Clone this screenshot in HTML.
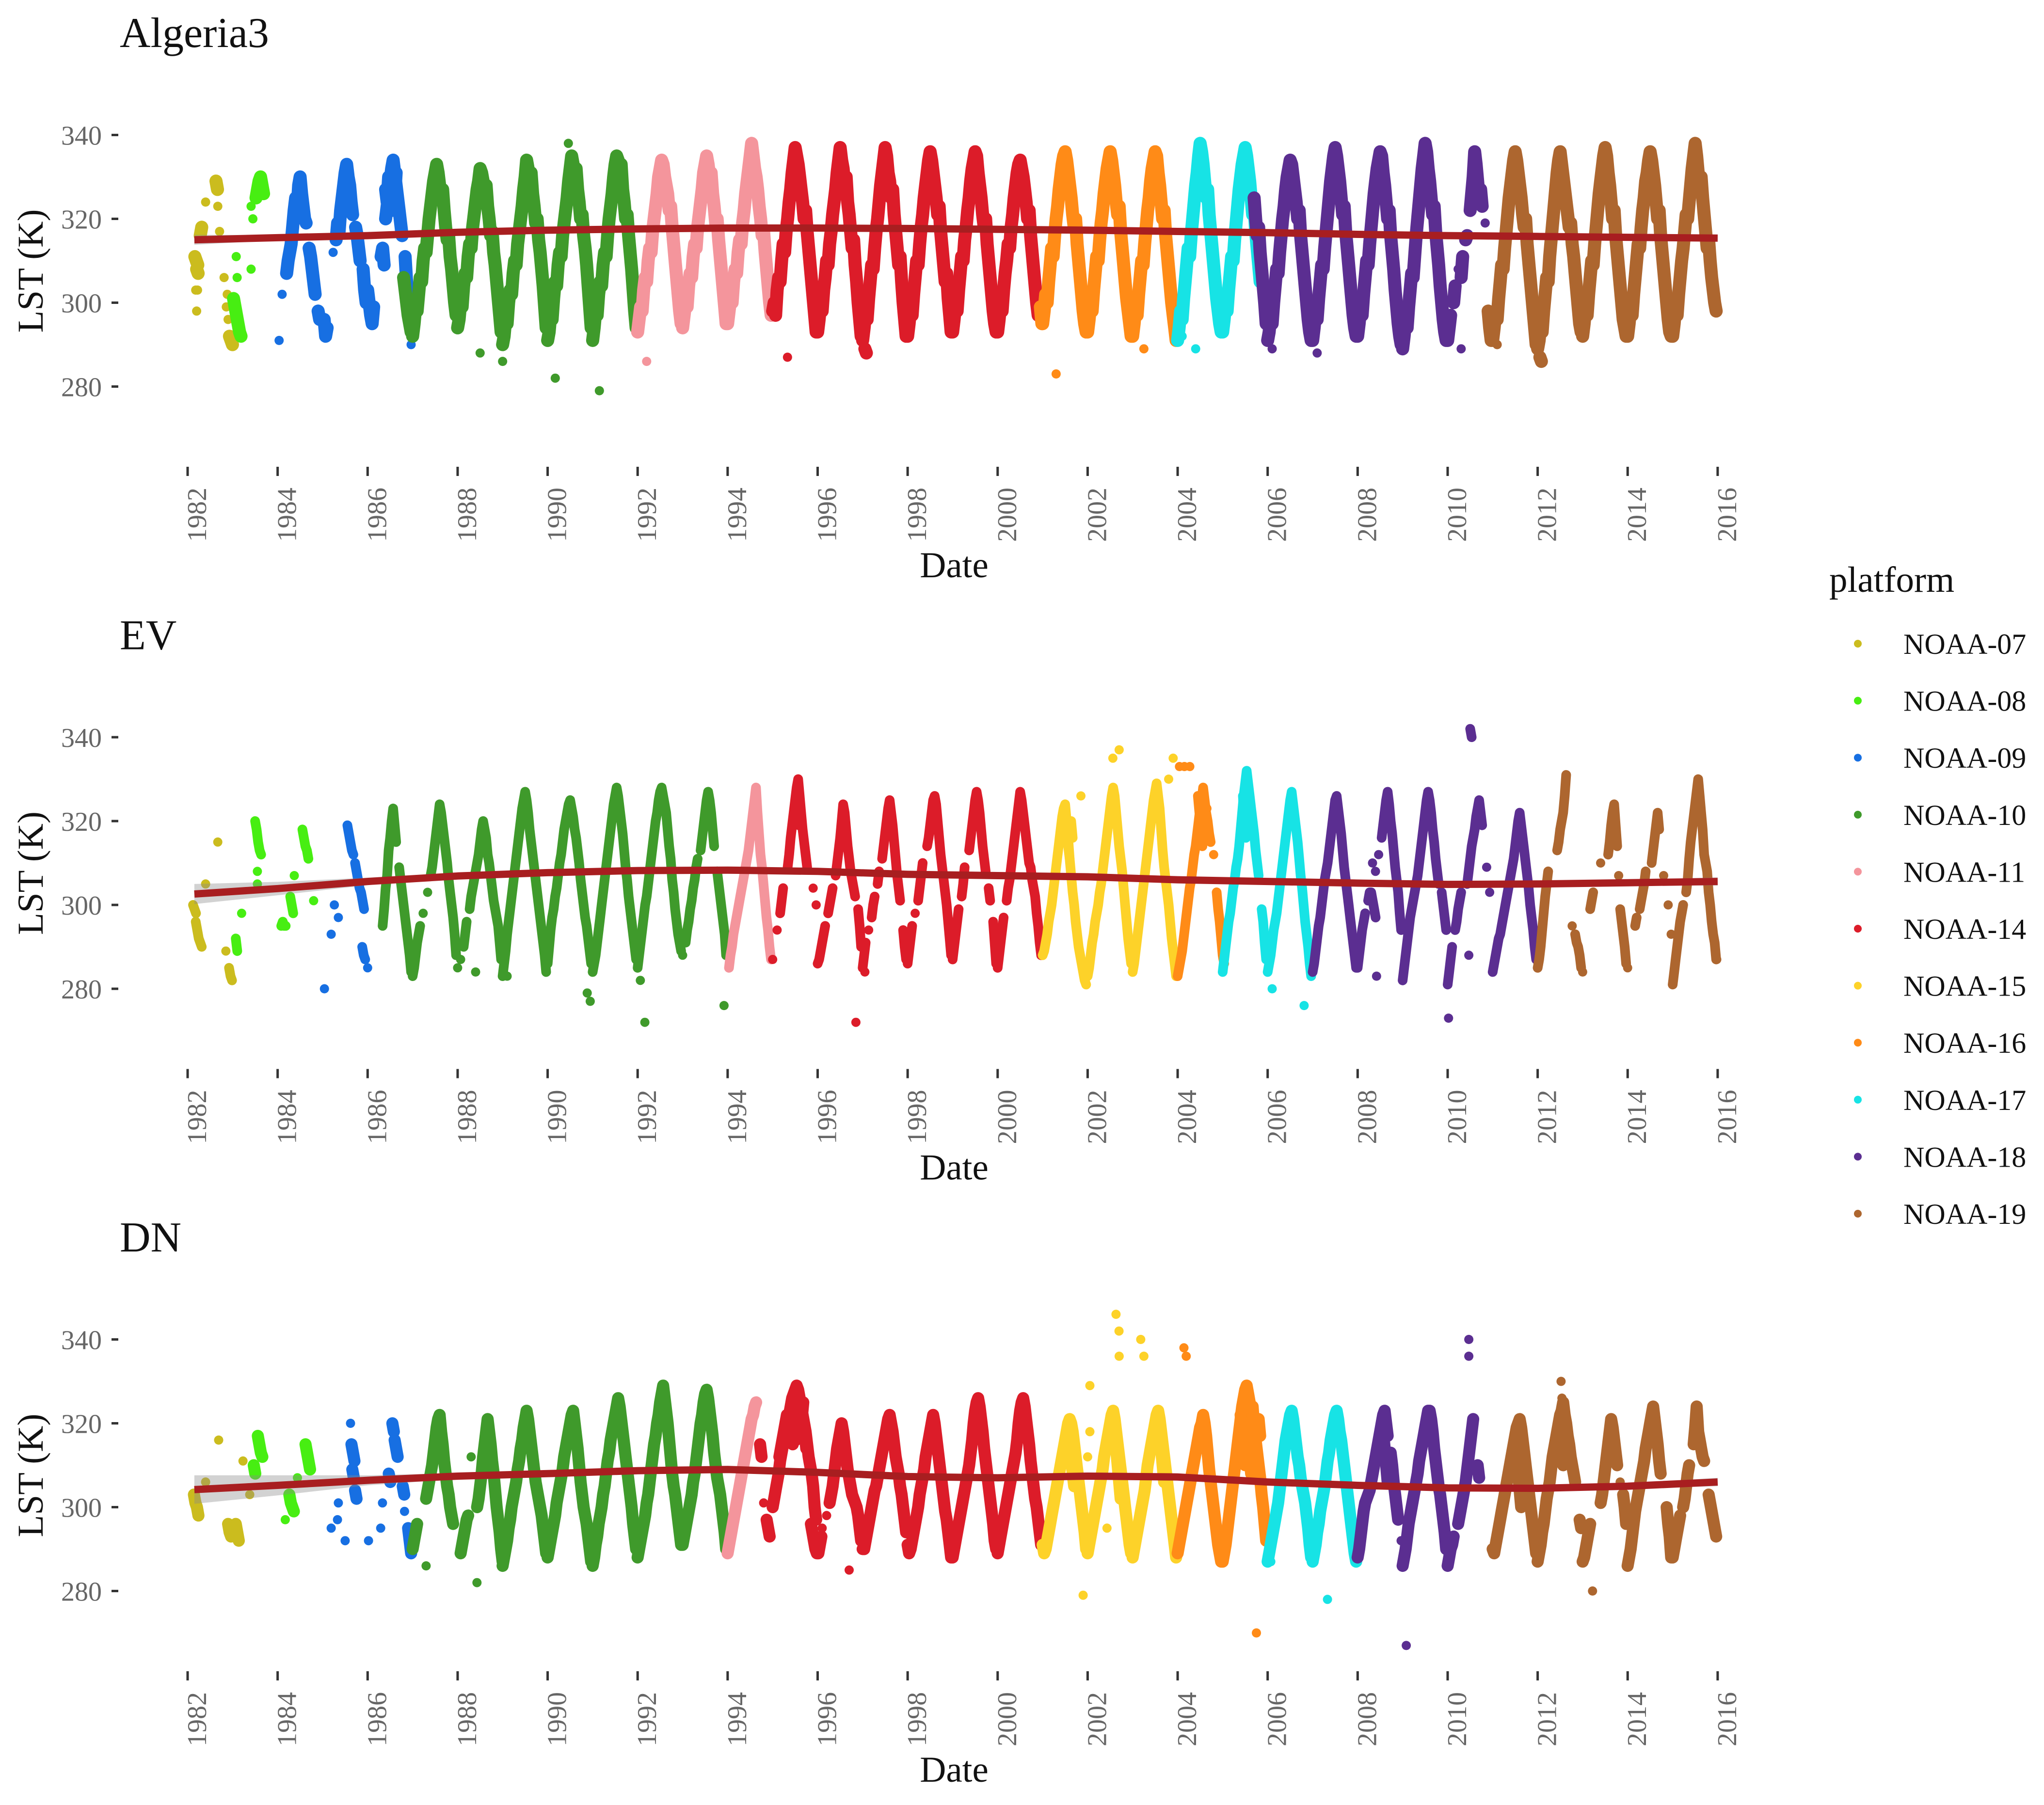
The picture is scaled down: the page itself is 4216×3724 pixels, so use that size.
<!DOCTYPE html>
<html lang="en">
<head>
<meta charset="utf-8">
<title>LST by platform</title>
<style>
html,body{margin:0;padding:0;background:#fff;}
svg{display:block;position:absolute;left:0;top:0;}
text{font-family:"Liberation Serif",serif;}
</style>
</head>
<body>
<svg id="chart" xmlns="http://www.w3.org/2000/svg" width="4216" height="3724" viewBox="0 0 4216 3724"></svg>
<script>
// Categories and ticks
const platformNames=['NOAA-07','NOAA-08','NOAA-09','NOAA-10','NOAA-11','NOAA-14','NOAA-15','NOAA-16','NOAA-17','NOAA-18','NOAA-19'];
const platformColors=['#cbbc1e','#47ee12','#176fe2','#3f9a2b','#f4959c','#dc1c29','#fdd229','#ff8b17','#17e3e5','#5b2e91','#ad662f'];
const panelTitles=['Algeria3','EV','DN'];
const yearTicks=[1982,1984,1986,1988,1990,1992,1994,1996,1998,2000,2002,2004,2006,2008,2010,2012,2014,2016];
const lstTicks=[280,300,320,340];
const readingsPerYear=30;
// Every row: start date, then LST readings in K at the cadence above (blank = no reading)
const algeria07=[[1982.16,311,310,309],[1982.2,308,307],[1982.18,303],[1982.22,303],[1982.2,298],[1982.28,316,318],[1982.4,324],[1982.63,329,327],[1982.67,323],[1982.71,317],[1982.81,306],[1982.88,302],[1982.86,299],[1982.9,296],[1982.93,292,291,290]];
const algeria08=[[1983.02,301,299,297,295,293,292],[1983.1,306],[1983.08,311],[1983.41,308],[1983.41,323],[1983.45,320],[1983.52,325,327,329,330,328,326]];
const algeria09=[[1984,,291,,302,,,307,310,312,314,318,322,325,322,328,330,326,323,320,319,,313,311,308,305,302,,298,296],[1985,,296,292,294,,,,312,,315,319,317,322,325,328,331,333,330,328,324,321,,318,316,313,310,,308,303,300],[1986,303,300,297,295,299,,,,,311,313,309,320,323,326,329,332,334,331,328,325,322,319,316,,311,305,301,297,290],[1986.4,327,324,330,326,322,328,325,331,324]];
const algeria10=[[1986.8,306,303,300,297,295,293],[1987,292,295,299,298,302,306,305,310,313,312,316,320,323,326,329,331,333,331,328,325,327,322,318,315,316,311,308,304,300,297],[1988,294,296,300,299,304,307,306,311,314,313,318,321,324,327,329,332,331,329,326,328,323,320,316,317,312,309,305,301,297,293],[1989,290,292,296,295,300,303,302,307,310,309,314,317,320,323,327,330,334,332,329,331,326,323,319,320,315,312,308,304,299,294],[1990,291,293,297,296,301,305,304,309,312,311,316,319,322,325,329,332,335,333,330,332,327,324,320,321,316,313,309,304,299,294],[1991,291,294,298,297,302,305,304,309,312,311,316,320,323,326,330,333,335,334,331,333,327,324,320,321,316,312,308,303,298,294],[1988.5,288],[1989,286],[1990.17,282],[1991.15,279],[1990.46,338]];
const algeria11=[[1992,293,296,299,298,303,306,305,310,313,312,317,320,323,326,330,332,334,333,330,328,326,322,323,318,314,310,306,302,298,295],[1993,294,297,300,299,304,307,306,311,314,313,318,321,324,327,331,333,335,333,330,331,326,323,319,320,315,311,307,303,299,295],[1994,295,298,301,300,305,308,307,312,315,314,319,322,326,329,332,335,338,335,332,330,327,323,320,316,317,312,308,304,300,297],[1992.2,286]];
const algeria14=[[1995,298,300,297,303,306,305,310,314,312,317,320,324,327,331,334,337,335,333,330,327,324,320,322,317,313,309,305,301,297,293],[1996,293,296,300,298,303,306,310,309,314,317,321,324,327,331,334,337,334,332,328,330,324,321,317,313,315,309,305,300,296,292],[1997,291,294,298,296,301,305,309,308,313,317,320,324,328,331,334,337,335,331,329,325,327,321,317,313,309,311,305,300,296,292],[1998,292,295,299,297,302,306,310,309,314,318,321,325,328,331,334,336,334,331,328,325,321,323,317,313,309,305,307,301,297,293],[1999,293,296,300,298,303,307,311,310,315,318,322,325,329,332,334,336,335,331,328,325,321,318,320,314,310,306,302,298,295,293],[2000,293,296,300,298,303,307,310,314,313,318,321,325,328,331,333,334,332,330,327,324,320,322,316,312,308,304,300,297],[1995.33,287],[1997.05,289,288]];
const algeria16=[[2000.95,299,295],[2001,295,298,302,300,305,309,313,311,316,320,323,327,330,333,335,336,334,331,328,325,321,318,320,314,310,306,302,298,295,293],[2002,293,296,300,298,303,307,311,310,315,319,322,326,329,332,334,336,334,331,328,324,321,323,317,313,309,305,301,298,295,292],[2003,292,295,299,297,302,306,310,309,314,318,322,325,329,332,334,336,335,331,328,324,320,322,316,312,308,304,300,297,294,291],[2001.3,283],[2003.25,289]];
const algeria17=[[2004,291,294,298,296,301,305,309,313,311,316,320,324,328,331,335,338,336,333,329,325,327,321,317,313,309,305,301,298,295,293],[2005,293,296,300,298,303,307,311,310,315,319,323,327,330,333,335,337,335,332,329,325,321,323,317,313,309,305],[2004.4,289],[2004.1,292]];
const algeria18=[[2005.7,325,320,316,318,312,308,304,300,295],[2006,291,293,297,295,300,304,308,307,312,316,320,323,327,330,332,334,333,330,327,324,320,322,316,312,308,304,300,296,293,291],[2007,291,294,298,296,301,305,309,308,313,317,321,325,329,332,335,337,335,332,329,325,321,323,317,313,309,305,301,297,294,292],[2008,292,295,299,297,302,306,310,309,314,318,322,326,329,332,334,336,335,331,328,324,320,322,316,312,308,303,299,295,292,290],[2009,289,292,296,294,299,303,307,306,311,316,320,324,328,332,335,338,336,332,329,325,321,323,317,313,309,304,300,296,293,291],[2010,291,294,297,,300,304,,308,,306,311,,315,316,,322,326,330,336,333,329,325,327,323,,319],[2006.1,289],[2007.1,288],[2010.3,289]];
const algeria19=[[2010.9,298,294,291],[2011,291,294,298,296,301,305,309,308,313,317,321,325,328,331,334,336,334,331,328,325,321,318,320,314,310,306,302,298,294,290],[2012,289,291,295,293,298,302,306,305,311,315,319,323,327,331,334,336,333,330,327,324,321,318,319,314,311,307,303,299,295,293],[2013,292,295,299,297,302,306,310,309,314,318,322,326,329,332,335,337,335,331,328,324,320,322,316,312,308,304,300,296,294,292],[2014,292,295,299,297,302,306,310,314,313,318,322,325,329,331,334,336,334,331,328,324,320,322,316,312,308,304,300,296,293,292],[2015,292,295,299,297,302,306,310,313,317,321,320,324,328,332,335,338,335,331,328,330,325,321,317,313,315,310,306,303,300,298],[2011.1,290],[2012.05,287,286]];

const ev07=[[1982.12,300,299,298],[1982.18,296,294,292,291,290],[1982.4,305],[1982.67,315],[1982.85,289],[1982.92,285,283,282]];
const ev08=[[1983.07,292,289],[1983.2,298],[1983.5,320,318,315,313,312],[1983.55,308],[1983.55,305],[1984.08,295,296,295,295],[1984.28,302,300,298],[1984.37,307],[1984.55,318,316,314,313,311],[1984.8,301]];
const ev09=[[1985.04,280],[1985.19,293],[1985.35,297],[1985.26,300],[1985.55,319,317,315,313,312],[1985.72,310,308,306,304,303,301,299],[1985.88,290,288,287],[1986,285]];
const ev10=[[1986,,,,,,,,,,,295,299,304,307,313,316,320,323,319,315,,309,306,303,300,297,294,291,288,284],[1987,283,285,288,291,293,295,,298,,,303,,307,309,312,315,318,321,324,322,319,316,313,310,306,303,300,297,293,288],[1988,285,,287,,290,293,296,,299,302,304,306,308,310,312,315,318,320,318,316,312,310,307,304,301,299,297,295,291,287],[1989,283,286,289,293,296,299,302,305,308,311,314,317,320,323,325,327,325,322,318,315,312,309,306,303,300,297,294,291,288,284],[1990,286,290,294,297,299,302,304,307,310,312,315,318,320,322,324,325,323,321,318,316,313,310,306,303,300,297,295,292,289,286],[1991,284,286,288,291,294,297,300,303,306,309,312,315,318,321,324,326,328,326,323,320,317,313,309,306,302,299,296,293,290,287],[1992,285,288,291,294,297,300,302,305,308,311,314,317,320,322,325,327,328,326,324,322,318,314,311,306,303,299,296,293,291,289],[1993,288,,291,294,296,299,301,304,306,309,311,,313,316,319,322,325,327,325,322,318,314,,308,305,302,299,296,293,288],[1990.88,279,,277],[1992.06,282],[1992.16,272],[1993.92,276],[1988.4,284],[1989.1,283]];
const ev11=[[1994.03,285,288,290,293,295,297,299,301,303,305,307,309,311,313,316,319,322,325,328,322,317,312,309,305,301,297,294,290,287]];
const ev14=[[1995,287,,,294,,298,301,304,,,309,312,316,319,322,325,328,330,326,322,318,315,312,309,,,,304,,300],[1996,286,287,289,291,293,295,,298,300,302,304,,307,310,313,316,320,324,322,318,314,311,308,306,304,302,,299,295,290],[1997,285,288,291,,294,,297,300,302,,305,308,,311,314,317,320,323,325,322,319,315,311,307,304,301,,294,290,287],[1998,286,289,292,295,,298,,301,304,307,310,,,314,316,319,322,325,326,324,320,316,312,309,306,303,300,296,292,288],[1999,287,290,293,296,299,,302,305,309,,,313,316,319,322,325,327,325,322,318,314,311,308,,304,301,,296,291,286],[2000,285,288,291,294,297,,301,304,306,309,312,315,318,321,324,327,325,322,319,316,313,310,309,306,304,302,298,295,291,288],[1996.85,272],[1995.55,321,319],[1997.05,284]];
const ev15=[[2001,288,289,291,293,296,298,300,303,306,309,312,315,318,321,323,324,320,316,311,307,303,300,296,293,290,288,286,284,282,281],[2002,283,285,288,291,293,296,298,300,303,305,308,311,314,317,320,323,326,328,326,322,318,314,311,308,304,300,296,292,289,286],[2003,284,286,289,292,295,298,301,304,307,310,313,316,319,322,325,327,329,326,323,318,313,309,306,303,300,296,292,289,286,283],[2001.5,322,318,314,311,320,316],[2001.85,326],[2002.56,335],[2002.7,337],[2003.8,330],[2003.9,335]];
const ev16=[[2004,283,285,287,289,292,295,298,301,304,306,309,312,314,317,320,323,325,328,325,322,320,317,315,,312,,303,299,296,292,288,286],[2004.04,333],[2004.15,333],[2004.27,333],[2004.45,326,322,318,314,320,316,323]];
const ev17=[[2005,284,287,290,293,296,298,301,304,306,309,311,314,318,322,326,329,332,329,326,323,320,317,313,310,307,,299,296,291,287],[2006,284,286,288,291,294,296,298,301,304,307,310,313,316,319,322,325,327,324,321,318,315,311,307,304,300,296,293,290,286,283],[2006.1,280],[2006.81,276],[2005.45,326,320,316]];
const ev18=[[2007,284,286,289,292,295,297,300,303,306,308,310,313,316,319,322,325,326,323,320,317,313,309,306,303,300,297,294,291,288,285],[2008,285,288,291,294,296,298,,301,303,,,,,,312,,316,319,322,325,327,324,320,317,313,309,306,303,298,294],[2008.33,310,,308],[2008.3,303,301,299,297],[2008.42,283],[2009,282,285,288,291,294,297,299,301,303,305,307,310,313,316,319,322,325,327,325,322,318,315,311,308,305,,303,300,297,294],[2010,281,284,287,290,,294,296,299,301,303,,,,305,308,311,314,316,318,321,323,325,322,319,,,309,,303],[2010.5,342,340],[2010.02,273],[2010.47,288],[2011,284,286,288,290,292,293,295,297,299,301,303,305,307,309,311,314,317,320,322,319,316,313,310,307,304,300,297,294,290,287]];
const ev19=[[2012,285,287,290,294,298,302,305,308,,,,,,313,315,318,320,322,326,331,,,,295,,293,291,290,288,285],[2013,284,,,,,299,301,303,,,,,310,,,,,312,315,319,322,324,319,314,307,299,296,293,290,286],[2014,285,,,,,295,297,,299,301,303,305,308,,,,310,313,316,319,322,318,,,307,,,300,,293],[2015,281,284,287,290,293,296,298,300,,303,306,311,315,318,321,324,327,330,326,322,318,312,310,308,303,300,296,293,291,287],[2015.98,287]];

const dn07=[[1982.14,303,301,300,298],[1982.4,306],[1982.69,316],[1983.23,311],[1983.38,303],[1982.9,296,294,293],[1983.07,296,294,292]];
const dn08=[[1983.56,317,315,313,312],[1983.47,310,308],[1984.44,307],[1984.26,303,301,300,299],[1984.17,297],[1984.62,315,313,311,309]];
const dn09=[[1985.62,320],[1985.64,315,313,311],[1985.66,309,307],[1985.72,304,302],[1985.35,301],[1985.33,297],[1985.19,295],[1985.5,292],[1986.02,292],[1986.33,301],[1986.29,295],[1986.55,320,318],[1986.6,316,314,312],[1986.47,308,306],[1986.78,305,303],[1986.82,299],[1986.9,295,292,289]];
const dn10=[[1987,290,292,294,296,,,,,,302,304,306,308,310,313,316,319,321,322,318,315,311,308,305,303,300,298,296],[1987.3,286],[1988,,,289,291,293,295,297,298,,,,,,300,302,305,308,312,315,318,321,318,315,311,308,304,300,297,294,290,287],[1988.43,282],[1988.3,312],[1989,286,288,290,292,295,297,300,302,304,306,309,311,314,316,319,321,323,321,318,315,312,309,306,304,302,300,298,295,292,289],[1990,288,290,292,294,296,298,301,303,305,307,309,312,314,316,318,320,322,323,320,317,314,310,306,303,300,298,296,293,290,287],[1991,286,288,291,293,296,298,300,303,305,308,311,313,316,318,320,322,324,326,324,321,318,315,312,309,306,303,300,296,293,290],[1992,288,290,292,294,296,298,301,303,306,309,312,315,317,320,322,325,327,329,326,323,320,316,312,308,305,303,300,297,294,291],[1993,291,293,295,297,299,301,303,306,308,311,314,317,320,322,325,327,328,326,323,320,317,313,310,307,305,303,300,297,294,290]];
const dn11=[[1994,289,291,293,295,297,299,301,303,305,307,309,311,313,315,317,319,321,322,324,325]];
const dn14=[[1994.72,315,312],[1994.8,301,,297,295,293],[1995,300,302,304,306,308,311,313,315,317,318,320,322,324,326,327,328,329,328,326,324,322,320,318,315,312,310,308,305,300,297],[1995.15,312,314,316,318,320,322],[1995.38,322,318,315,320,316,323,319,317,321,325,318,314],[1995.85,296,294,292,290,289,289,291,293],[1996,293,,,295,,,298,,301,303,305,308,311,314,316,318,320,318,315,312,309,307,305,303,302,301,300,298,295,292],[1996.7,285],[1997,290,290,292,294,296,298,300,302,304,305,307,309,311,313,315,317,319,321,322,320,318,315,312,310,308,305,303,300,297,294],[1998,291,289,290,292,294,296,298,300,303,305,307,309,312,314,316,318,320,322,320,317,314,311,308,305,302,299,297,294,291,288],[1999,288,290,292,294,296,298,300,302,304,306,308,310,313,316,320,323,325,326,324,321,318,314,311,308,305,302,299,296,292,290],[2000,289,291,293,295,297,299,301,303,305,307,309,311,313,316,320,323,325,326,324,321,318,315,311,308,305,302,300,297,294,291]];
const dn15=[[2001,291,289,290,292,294,296,298,300,302,304,306,308,310,312,314,316,318,320,321,320,318,315,312,309,306,303,300,297,294,290],[2002,289,291,293,295,297,299,301,303,305,307,309,312,314,316,318,320,322,323,321,318,315,312,309,306,303,300,297,294,291,289],[2003,288,290,292,294,296,298,300,302,304,307,310,312,314,316,318,320,322,323,321,318,315,312,309,306,303,300,297,294,291,288],[2002.63,346,,342],[2003.18,340],[2002.7,336],[2003.25,336],[2002.05,329],[2002.05,318],[2002,312],[2001.9,279],[2002.43,295],[2001.6,316,312,308,305,314],[2002.6,318,314,310,306,302],[2003.6,318,314,310,306]];
const dn16=[[2004,289,291,293,295,297,299,301,303,305,307,309,311,313,315,317,319,320,322,320,317,313,309,306,303,300,297,294,291,289,287],[2005,287,289,291,294,297,300,303,306,309,312,315,318,321,324,326,328,329,327,325,323,321,319,316,313,310,307,303,300,296,292],[2005.4,322,318,314,310,320,316,312,308,324,319,315,311,321,317],[2004.14,338],[2004.19,336],[2005.75,270]];
const dn17=[[2006,287,289,291,293,295,297,299,301,304,307,310,313,316,318,320,322,323,321,318,315,312,310,307,305,303,301,298,295,291,288],[2007,287,289,291,294,296,299,301,303,305,308,311,313,316,318,320,322,323,321,318,316,313,310,307,304,301,298,295,292,289,287],[2006.07,287],[2007.33,278]];
const dn18=[[2008,288,290,293,296,299,301,302,303,304,306,308,310,312,314,316,318,320,322,323,320,317,,313,310,306,303,300,297,,292],[2008.5,316,312,318,314,310,306],[2009,286,288,290,293,296,298,300,302,304,306,308,311,313,315,317,319,321,323,323,321,318,314,311,308,305,303,300,297,294,290],[2009.08,267],[2010,286,288,290,291,293,,,296,298,300,302,304,306,309,312,315,318,321,,309,310,307],[2010.47,340],[2010.47,336],[2009.75,311],[2009.78,306]];
const dn19=[[2011,290,289,291,293,295,297,299,301,303,305,307,309,311,313,315,317,319,320,321,319,316,313,310,307,304,301,298,295,292,289],[2011.5,316,312,308,304,300],[2012,287,289,291,294,296,299,302,304,306,309,312,314,316,318,320,322,323,325,322,320,317,315,312,310,308,306,,,297,295],[2012.52,330],[2012.54,326],[2012.5,318,314,310,320,316,312],[2013,287,288,290,292,294,296,,,,,,,301,303,306,309,312,315,318,321,319,316,313,310,,306,,303,300,296],[2013.22,280],[2014,286,288,290,293,296,299,301,303,305,307,309,311,314,316,318,320,322,324,321,318,315,311,308,,,,300,296,293,288],[2015,288,290,292,294,296,298,,300,302,305,308,310,,,315,319,324,318,316,314,312,311,,,303,301,299,297,295,293]];

const algeriaSeries=[[0,algeria07],[1,algeria08],[2,algeria09],[3,algeria10],[4,algeria11],[5,algeria14],[7,algeria16],[8,algeria17],[9,algeria18],[10,algeria19]];
const evSeries=[[0,ev07],[1,ev08],[2,ev09],[3,ev10],[4,ev11],[5,ev14],[6,ev15],[7,ev16],[8,ev17],[9,ev18],[10,ev19]];
const dnSeries=[[0,dn07],[1,dn08],[2,dn09],[3,dn10],[4,dn11],[5,dn14],[6,dn15],[7,dn16],[8,dn17],[9,dn18],[10,dn19]];

// Smoothed trend and its standard-error half width
const smoothDates=[1982.15,1984,1986,1988,1990,1992,1994,1996,1998,2000,2002,2004,2006,2008,2010,2012,2014,2016];
const algeriaSmooth=[315,315.5,316,316.8,317.3,317.6,317.8,317.8,317.7,317.5,317.3,317,316.7,316.3,316,315.8,315.6,315.4];
const algeriaError=[1.2,0.6,0.4,0.3,0.3,0.3,0.3,0.3,0.3,0.3,0.3,0.3,0.3,0.3,0.3,0.3,0.4,0.8];
const evSmooth=[302.6,303.9,305.6,306.9,307.7,308.2,308.3,308,307.3,307,306.7,306,305.6,305.2,304.9,305,305.3,305.6];
const evError=[2.4,1.6,0.9,0.6,0.5,0.4,0.4,0.4,0.4,0.4,0.4,0.4,0.4,0.4,0.4,0.4,0.6,1];
const dnSmooth=[304.2,305.2,306.4,307.4,308,308.7,309,308.3,307.3,307,307.4,307.2,306,305.2,304.6,304.5,305,306];
const dnError=[3.4,2.4,1.2,0.7,0.5,0.4,0.4,0.4,0.4,0.4,0.4,0.4,0.4,0.4,0.4,0.4,0.6,1];

const panelSeries=[algeriaSeries,evSeries,dnSeries];
const panelSmooth=[algeriaSmooth,evSmooth,dnSmooth];
const panelError=[algeriaError,evError,dnError];

const svg=document.getElementById('chart');
const NS='http://www.w3.org/2000/svg';
const panelStep=1242.5;
const swathWidth=[27,20,25];
const maxSwathJump=6;
function make(tag,attrs,parent,txt){
  const el=document.createElementNS(NS,tag);
  for(const k in attrs){el.setAttribute(k,attrs[k]);}
  if(txt!==undefined){el.textContent=txt;}
  parent.appendChild(el);
  return el;
}
function xAxis(date){return 387+92.82*(date-1982);}
function yAxis(panel,k){return panel*panelStep+278.5+(340-k)*8.65;}

panelTitles.forEach(function(title,p){
  const off=p*panelStep;
  const g=make('g',{},svg);
  
  

  const titleEl=make('text',{x:247,y:97+off,'font-size':88,fill:'#111'},g,title);
  
  

  lstTicks.forEach(function(t){
    const tick=make('line',{x1:230,x2:244,y1:yAxis(p,t),y2:yAxis(p,t),stroke:'#333','stroke-width':5},g);
    
    
    const lab=make('text',{x:210,y:yAxis(p,t)+20,'font-size':56,fill:'#666','text-anchor':'end'},g,String(t));
    
    
  });

  yearTicks.forEach(function(t){
    const tx=xAxis(t);
    const tick=make('line',{x1:tx,x2:tx,y1:963+off,y2:982+off,stroke:'#333','stroke-width':5},g);
    
    
    const lx=tx+38, ly=1006+off;
    const lab=make('text',{x:lx,y:ly,'font-size':56,fill:'#666','text-anchor':'end',transform:'rotate(-90 '+lx+' '+ly+')'},g,String(t));
    
    
  });

  const yTitleY=559+off;
  const yTitle=make('text',{x:88,y:yTitleY,'font-size':75,fill:'#111','text-anchor':'middle',transform:'rotate(-90 88 '+yTitleY+')'},g,'LST (K)');
  
  

  const xTitle=make('text',{x:1968,y:1191+off,'font-size':75,fill:'#111','text-anchor':'middle'},g,'Date');
  
  

  panelSeries[p].forEach(function(entry){
    const idx=entry[0];
    const sg=make('g',{fill:platformColors[idx]},g);
    
    
    entry[1].forEach(function(row){
      let d='';
      for(let i=1;i<row.length;i++){
        if(row[i]===undefined){continue;}
        const date=row[0]+(i-1)/readingsPerYear;
        const px=xAxis(date).toFixed(1), py=yAxis(p,row[i]).toFixed(1);
        const prev=row[i-1];
        const joined=i>1&&prev!==undefined&&Math.abs(prev-row[i])<=maxSwathJump;
        if(joined){d+='L'+px+' '+py;}
        else{d+='M'+px+' '+py;}
        const c=make('circle',{cx:px,cy:py,r:9.5},sg);
        
        
      }
      if(d.indexOf('L')>=0){
        const swath=make('path',{d:d,fill:'none',stroke:platformColors[idx],'stroke-width':swathWidth[p],'stroke-linecap':'round','stroke-linejoin':'round'},sg);
        
        
      }
    });
  });

  const smooth=panelSmooth[p], err=panelError[p];
  let upper=[],lower=[],mid=[];
  smoothDates.forEach(function(d,i){
    upper.push(xAxis(d).toFixed(1)+','+yAxis(p,smooth[i]+err[i]).toFixed(1));
    lower.unshift(xAxis(d).toFixed(1)+','+yAxis(p,smooth[i]-err[i]).toFixed(1));
    mid.push(xAxis(d).toFixed(1)+','+yAxis(p,smooth[i]).toFixed(1));
  });
  const band=make('polygon',{points:upper.concat(lower).join(' '),fill:'#8a8a8a','fill-opacity':0.38},g);
  
  
  const line=make('polyline',{points:mid.join(' '),fill:'none',stroke:'#a81e20','stroke-width':15,'stroke-linejoin':'round'},g);
  
  
});

const legend=make('g',{},svg);


const legendTitle=make('text',{x:3773,y:1221,'font-size':75,fill:'#111'},legend,'platform');


platformNames.forEach(function(name,i){
  const ly=1328+117.6*i;
  const eg=make('g',{},legend);
  
  
  const dot=make('circle',{cx:3832,cy:ly,r:8,fill:platformColors[i]},eg);
  
  
  const lab=make('text',{x:3926,y:ly+21,'font-size':60,fill:'#111'},eg,name);
  
  
});
</script>
</body>
</html>
